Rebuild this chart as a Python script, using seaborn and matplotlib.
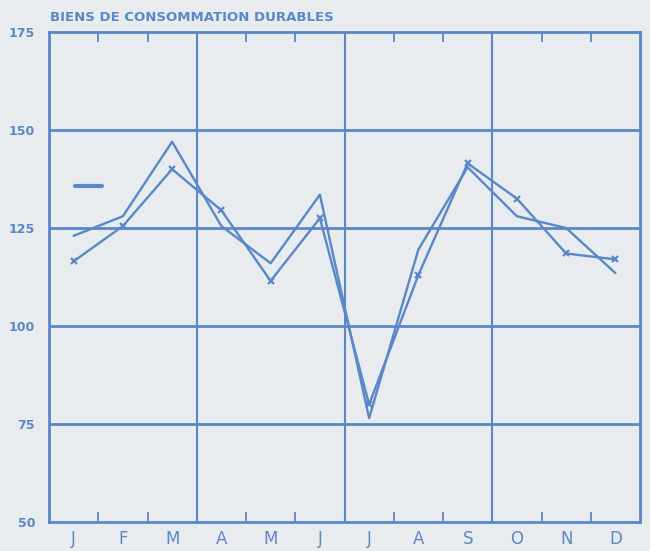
import pandas as pd
import seaborn as sns
import matplotlib.pyplot as plt
from matplotlib.lines import Line2D

# Donnees
mois = ['J', 'F', 'M', 'A', 'M', 'J', 'J', 'A', 'S', 'O', 'N', 'D']
serie_a = [123, 128, 147, 125.5, 116, 133.5, 76.5, 119.5, 140.5, 128, 125, 113.5]
serie_b = [116.5, 125.5, 140, 129.5, 111.5, 127.5, 80, 113, 141.5, 132.5, 118.5, 117]

bleu = '#5a87c5'
fond = '#e9ecee'

sns.set_theme(style='white')
plt.rcParams['font.family'] = ['DejaVu Sans']

df = pd.DataFrame({'x': range(12), 'a': serie_a, 'b': serie_b})

fig = plt.figure(figsize=(6.5, 5.51), dpi=100, facecolor=fond)
ax = fig.add_axes([49 / 650, 29 / 551, 591 / 650, 490 / 551])
ax.set_facecolor(fond)

sns.lineplot(data=df, x='x', y='a', ax=ax, color=bleu, linewidth=1.7)
sns.lineplot(data=df, x='x', y='b', ax=ax, color=bleu, linewidth=1.7,
             marker='x', markersize=5, markeredgewidth=1.6, markeredgecolor=bleu)

ax.set_xlim(-0.5, 11.5)
ax.set_ylim(50, 175)
ax.set_yticks([50, 75, 100, 125, 150, 175])
ax.set_xticks(range(12))
ax.set_xticklabels(mois)
ax.set_xlabel('')
ax.set_ylabel('')

# grille
for v in [75, 100, 125, 150]:
    ax.axhline(v, color=bleu, linewidth=2, zorder=0)
for v in [2.5, 5.5, 8.5]:
    ax.axvline(v, color=bleu, linewidth=1.5, zorder=0)

ax.set_xticks([i + 0.5 for i in range(11) if i not in (2, 5, 8)], minor=True)
ax.tick_params(axis='x', which='minor', direction='in', length=7, width=1.3,
               color=bleu, bottom=True, top=True)
ax.tick_params(axis='x', which='major', length=0, pad=6, labelsize=12, labelcolor=bleu)
ax.tick_params(axis='y', length=0, pad=10, labelsize=9, labelcolor=bleu)
for lab in ax.get_yticklabels():
    lab.set_fontweight('bold')

for s in ax.spines.values():
    s.set_color(bleu)
    s.set_linewidth(2)

ax.text(0.002, 1.016, 'BIENS DE CONSOMMATION DURABLES',
        transform=ax.transAxes, color=bleu, fontsize=9.5, fontweight='bold',
        ha='left', va='bottom')

ax.legend(handles=[Line2D([], [], color=bleu, linewidth=3)], labels=[' '],
          loc='upper left', bbox_to_anchor=(0.02, 0.728), frameon=False,
          handlelength=1.8)

fig.savefig('out.png', dpi=100, facecolor=fond)
